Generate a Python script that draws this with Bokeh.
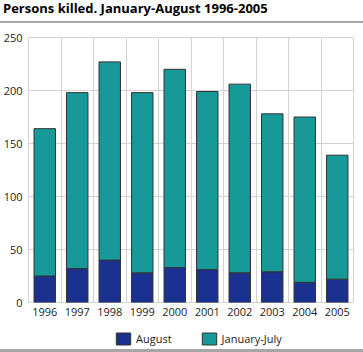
from bokeh.plotting import figure
from bokeh.layouts import column
from bokeh.models import FixedTicker, Legend, LegendItem, Range1d, Div
from bokeh.embed import file_html
from bokeh.resources import INLINE

years = [1996, 1997, 1998, 1999, 2000, 2001, 2002, 2003, 2004, 2005]
august = [25, 32, 40, 28, 33, 31, 28, 29, 19, 22]
jan_jul = [139, 166, 187, 170, 187, 168, 178, 149, 156, 117]
series = ["August", "January-July"]
colors = ["#1b318f", "#17999a"]
y_ticks = [0, 50, 100, 150, 200, 250]
title_text = "Persons killed. January-August 1996-2005"

FONT = "Open Sans"
W = 363
RULE = "#a6a6a6"

# header: title with rule below
head = Div(text=title_text, width=W, height=23, margin=0,
           styles={"font-family": FONT, "font-size": "13px", "font-weight": "bold",
                   "color": "#000000", "line-height": "16px", "padding-left": "3px",
                   "border-bottom": "2px solid " + RULE, "box-sizing": "border-box",
                   "white-space": "nowrap", "overflow": "hidden"})

# chart
p = figure(width=W, height=301, output_backend="svg", toolbar_location=None,
           x_range=Range1d(years[0] - 0.5, years[-1] + 0.5),
           y_range=Range1d(0, 250),
           min_border_left=26, min_border_right=10, min_border_top=14, min_border_bottom=22)

src = {"year": years, "August": august, "January-July": jan_jul}
rs = p.vbar_stack(series, x="year", width=0.66, color=colors, source=src,
                  line_color="#333333", line_width=1)

p.xaxis.ticker = FixedTicker(ticks=years)
p.xaxis.major_label_overrides = {y: str(y) for y in years}
p.yaxis.ticker = FixedTicker(ticks=y_ticks)
for ax in (p.xaxis, p.yaxis):
    ax.axis_line_color = None
    ax.major_tick_line_color = None
    ax.minor_tick_line_color = None
    ax.major_tick_in = 0
    ax.major_tick_out = 0
    ax.minor_tick_in = 0
    ax.minor_tick_out = 0
    ax.major_label_text_font = FONT
    ax.major_label_text_font_size = "11px"
    ax.major_label_text_color = "#222222"
p.xaxis.major_label_standoff = 5
p.yaxis.major_label_standoff = 6

p.xgrid.ticker = FixedTicker(ticks=[y + 0.5 for y in years[:-1]])
p.xgrid.grid_line_color = "#d3d3d3"
p.ygrid.grid_line_color = "#d3d3d3"
p.outline_line_color = "#d3d3d3"
p.outline_line_width = 1

# legend strip (its frame is aligned with the chart frame in the column)
leg = figure(width=W, height=25, output_backend="svg", toolbar_location=None,
             x_range=Range1d(years[0] - 0.5, years[-1] + 0.5), y_range=Range1d(1000, 2000),
             x_axis_location=None, y_axis_location=None,
             min_border=0, min_border_left=0, min_border_right=0,
             min_border_top=0, min_border_bottom=0)
leg.grid.visible = False
leg.outline_line_color = None
lrs = leg.vbar_stack(series, x="year", width=0.66, color=colors, source=dict(src),
                     line_color="#333333", line_width=1)
legend = Legend(items=[LegendItem(label=s, renderers=[r]) for s, r in zip(series, lrs)],
                orientation="horizontal", location=(86, 3),
                label_text_font=FONT, label_text_font_size="11px", label_text_color="#222222",
                label_standoff=4, glyph_width=18, glyph_height=15, spacing=28,
                padding=0, margin=0, border_line_color=None, background_fill_alpha=0)
leg.add_layout(legend)

foot = Div(text="", width=W, height=3, margin=0, styles={"background-color": RULE})

layout = column(head, p, leg, foot, spacing=0)
open("out.html", "w").write(file_html(layout, INLINE))
